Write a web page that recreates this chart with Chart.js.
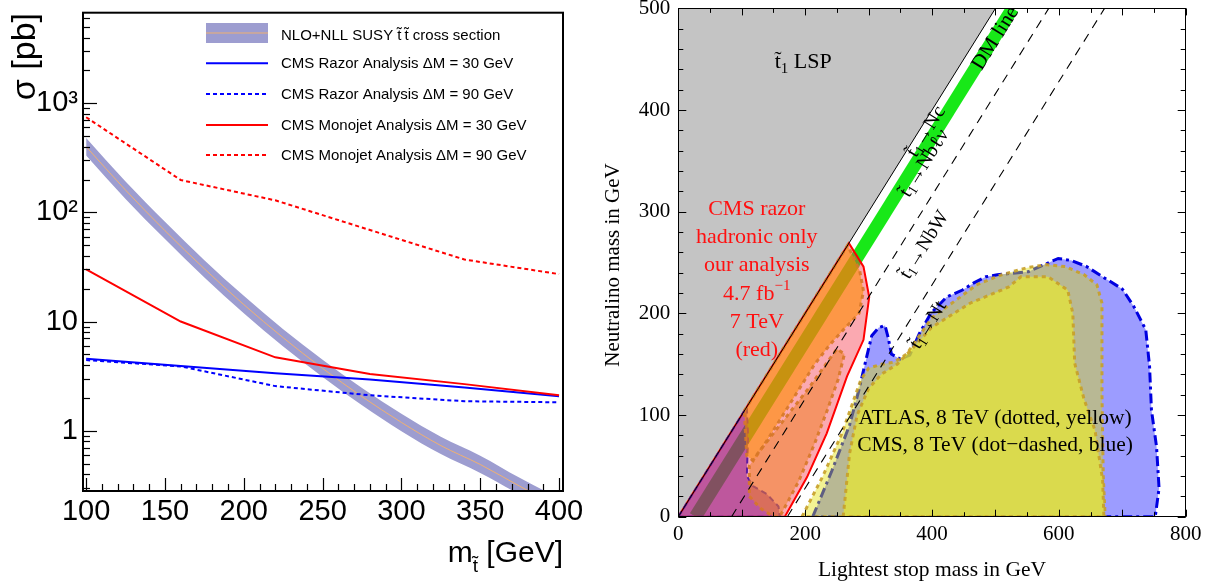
<!DOCTYPE html>
<html><head><meta charset="utf-8">
<script src="https://cdn.jsdelivr.net/npm/chart.js@4.4.1/dist/chart.umd.min.js"></script>
<style>
html,body{margin:0;padding:0;background:#fff;overflow:hidden;}
#c1{position:absolute;left:0;top:0;}
#c2{position:absolute;left:600px;top:0;}
</style></head><body>
<canvas id="c1" width="600" height="583"></canvas>
<canvas id="c2" width="611" height="583"></canvas>
<script>
// ================= LEFT PANEL DATA =================
const limitMass   = [100, 160, 220, 280, 340, 400];
const monojetDM30 = [30, 10, 4.7, 3.3, 2.67, 2.11];
const monojetDM90 = [745, 198, 129, 69, 37, 27.2];
const razorDM30   = [4.56, 3.91, 3.35, 2.95, 2.49, 2.07];
const razorDM90   = [4.43, 3.88, 2.56, 2.11, 1.86, 1.82];
const xsecMass    = [100, 125, 150, 175, 200, 225, 250, 275, 300, 325, 350, 375, 400];
const xsecCentral = [400, 160, 68, 30.4, 14.3, 7.1, 3.72, 2.05, 1.19, 0.73, 0.49, 0.31, 0.20];
const xsecUp      = [480, 192, 82, 36.5, 17.2, 8.5, 4.46, 2.46, 1.43, 0.88, 0.59, 0.37, 0.24];
const xsecDown    = [333, 133, 57, 25.3, 11.9, 5.9, 3.10, 1.71, 0.99, 0.61, 0.41, 0.26, 0.167];
const leftXTicks  = [100, 150, 200, 250, 300, 350, 400];
const leftYTicks  = [1, 10, 100, 1000];
const leftYTickLabels = ['1', '10', '10\u00B2', '10\u00B3'];
const legendLabels = [
  'NLO+NLL SUSY t\u0303\u2009t\u0303 cross section',
  'CMS Razor Analysis \u0394M = 30 GeV',
  'CMS Razor Analysis \u0394M = 90 GeV',
  'CMS Monojet Analysis \u0394M = 30 GeV',
  'CMS Monojet Analysis \u0394M = 90 GeV'
];

// ================= RIGHT PANEL DATA (stop mass, neutralino mass) =================
const lspRegion   = [[0,0],[0,500],[500,500],[0,0]];
const dmLine      = [[27,0],[527,500]];
const bwLine      = [[84,0],[584,500]];
const topLine     = [[172,0],[672,500]];
const diagLine    = [[0,0],[500,500]];
const razorRegion = [[0,0],[269,269],[292,246],[301,216],[292,174],[266,138],[234,82],[203,39],[168,0],[0,0]];
const purpleRegion= [[0,0],[108,108],[110,80],[108,40],[118,30],[140,22],[158,10],[160,0],[0,0]];
const orangeRegionA = [[104,104],[267,267],[286,242],[292,222],[285,200],[262,185],[240,170],[215,150],[190,125],[165,100],[140,75],[118,55],[108,60],[104,104]];
const orangeRegionB = [[112,20],[130,8],[150,0],[160,0],[190,35],[215,72],[235,105],[252,135],[262,160],[250,165],[228,146],[205,126],[180,106],[150,82],[125,62],[112,50],[112,20]];
const cmsRegion = [[212,0],[242,45],[270,90],[285,125],[295,152],[305,178],[316,186],[326,188],[331,176],[336,160],[350,155],[365,159],[380,180],[398,200],[423,216],[448,223],[466,230],[485,236],[503,238],[552,241],[570,246],[599,254],[620,252],[644,246],[669,236],[700,224],[718,207],[737,184],[743,148],[746,105],[754,69],[758,28],[752,0],[212,0]];
const atlasOuter = [[195,0],[228,40],[258,82],[275,112],[288,135],[300,146],[320,150],[340,152],[360,160],[380,178],[400,196],[440,214],[470,228],[510,238],[550,245],[580,248],[610,246],[640,238],[660,228],[668,210],[668,120],[670,40],[673,0],[195,0]];
const atlasInner = [[260,0],[270,62],[282,100],[300,126],[320,140],[345,150],[370,166],[399,186],[460,210],[521,226],[540,236],[583,236],[614,223],[622,200],[625,151],[640,115],[657,85],[669,36],[671,0],[260,0]];
const rightXTicks = [0, 200, 400, 600, 800];
const rightYTicks = [0, 100, 200, 300, 400, 500];

// ================= HELPERS =================
const SANS = "'Liberation Sans', Arial, sans-serif";
const SERIF = "'Liberation Serif', 'Times New Roman', serif";
function pts(xs, ys) { return xs.map((x, i) => ({x: x, y: ys[i]})); }
function pairs(arr) { return arr.map(p => ({x: p[0], y: p[1]})); }
function drawRich(ctx, segs, x, y, align) {
  let total = 0;
  for (const s of segs) { ctx.font = s.f; s.w = ctx.measureText(s.t).width; total += s.w; }
  let cx = align === 'center' ? x - total / 2 : (align === 'right' ? x - total : x);
  ctx.textAlign = 'left';
  for (const s of segs) { ctx.font = s.f; ctx.fillText(s.t, cx, y + (s.dy || 0)); cx += s.w; }
}
function ordered(list) { const n = list.length; list.forEach((d, i) => d.order = n - i); return list; }

// ================= LEFT CHART =================
const leftDecor = {
  id: 'leftDecor',
  afterDatasetsDraw(chart) {
    const ctx = chart.ctx, a = chart.chartArea, xs = chart.scales.x, ys = chart.scales.y;
    ctx.save();
    ctx.strokeStyle = '#000';
    ctx.lineWidth = 1.2;
    for (let e = -1; e <= 3; e++) {
      for (let d = 1; d <= 9; d++) {
        const v = d * Math.pow(10, e);
        if (v < ys.min || v > ys.max) continue;
        const py = Math.round(ys.getPixelForValue(v)) + 0.5;
        const len = d === 1 ? 14 : 7;
        ctx.beginPath(); ctx.moveTo(a.left, py); ctx.lineTo(a.left + len, py); ctx.stroke();
      }
    }
    for (let v = 100; v <= 400; v += 10) {
      const px = Math.round(xs.getPixelForValue(v)) + 0.5;
      const len = v % 50 === 0 ? 13 : 7;
      ctx.beginPath(); ctx.moveTo(px, a.bottom); ctx.lineTo(px, a.bottom - len); ctx.stroke();
    }
    ctx.lineWidth = 2;
    ctx.strokeRect(a.left, a.top, a.right - a.left, a.bottom - a.top);
    // legend
    const lx0 = 206, lx1 = 268, tx = 281;
    const rows = [33, 63.3, 94, 125, 155];
    ctx.fillStyle = '#9d9dd0';
    ctx.fillRect(lx0, 23, lx1 - lx0, 20);
    ctx.strokeStyle = '#f0b070'; ctx.lineWidth = 1;
    ctx.beginPath(); ctx.moveTo(lx0, 33); ctx.lineTo(lx1, 33); ctx.stroke();
    const styles = [null, ['#0000ff', []], ['#0000ff', [4, 3]], ['#ff0000', []], ['#ff0000', [4, 3]]];
    for (let i = 1; i < 5; i++) {
      ctx.strokeStyle = styles[i][0]; ctx.setLineDash(styles[i][1]); ctx.lineWidth = 2;
      ctx.beginPath(); ctx.moveTo(lx0, rows[i]); ctx.lineTo(lx1, rows[i]); ctx.stroke();
    }
    ctx.setLineDash([]);
    ctx.fillStyle = '#000'; ctx.font = '15px ' + SANS; ctx.textBaseline = 'middle'; ctx.textAlign = 'left';
    legendLabels.forEach((t, i) => ctx.fillText(t, tx, rows[i] + (i === 0 ? 2.5 : 0.5)));
    // axis titles
    ctx.textBaseline = 'alphabetic';
    ctx.save();
    ctx.translate(35, 13); ctx.rotate(-Math.PI / 2);
    ctx.font = '34px ' + SANS; ctx.textAlign = 'right';
    ctx.fillText('\u03C3 [pb]', 0, 0);
    ctx.restore();
    drawRich(ctx, [
      {t: 'm', f: '30px ' + SANS},
      {t: 't\u0303', f: '19px ' + SANS, dy: 10},
      {t: ' [GeV]', f: '30px ' + SANS}
    ], 563, 562, 'right');
    ctx.restore();
  }
};

const leftDatasets = ordered([
  {data: pts(xsecMass, xsecDown), borderWidth: 0, pointRadius: 0, fill: false, cubicInterpolationMode: 'monotone'},
  {data: pts(xsecMass, xsecUp), borderWidth: 0, pointRadius: 0, fill: 0, backgroundColor: '#9d9dd0', cubicInterpolationMode: 'monotone'},
  {data: pts(xsecMass, xsecCentral), borderColor: '#f0b070', borderWidth: 1, pointRadius: 0, fill: false, cubicInterpolationMode: 'monotone'},
  {data: pts(limitMass, razorDM30), borderColor: '#0000ff', borderWidth: 2, pointRadius: 0, fill: false},
  {data: pts(limitMass, razorDM90), borderColor: '#0000ff', borderWidth: 2, borderDash: [4, 3], pointRadius: 0, fill: false},
  {data: pts(limitMass, monojetDM30), borderColor: '#ff0000', borderWidth: 2, pointRadius: 0, fill: false},
  {data: pts(limitMass, monojetDM90), borderColor: '#ff0000', borderWidth: 2, borderDash: [4, 3], pointRadius: 0, fill: false}
]);

new Chart(document.getElementById('c1'), {
  type: 'line',
  data: {datasets: leftDatasets},
  options: {
    responsive: false, animation: false, events: [],
    layout: {padding: {top: 12.7, right: 37, left: 0, bottom: 0}},
    plugins: {legend: {display: false}, tooltip: {enabled: false}},
    scales: {
      x: {
        type: 'linear', min: 98, max: 402.5,
        grid: {display: false, drawTicks: false}, border: {display: false},
        ticks: {font: {family: SANS, size: 29}, color: '#000', padding: 4, maxRotation: 0, autoSkip: false},
        afterBuildTicks: s => { s.ticks = leftXTicks.map(v => ({value: v})); },
        afterFit: s => { s.height = 583 - 491; s.paddingLeft = 0; s.paddingRight = 0; }
      },
      y: {
        type: 'logarithmic', min: 0.28, max: 6760,
        grid: {display: false, drawTicks: false}, border: {display: false},
        ticks: {font: {family: SANS, size: 29}, color: '#000', padding: 5, autoSkip: false,
          callback: v => { const i = leftYTicks.indexOf(v); return i >= 0 ? leftYTickLabels[i] : ''; }},
        afterBuildTicks: s => { s.ticks = leftYTicks.map(v => ({value: v})); },
        afterFit: s => { s.width = 83; s.paddingTop = 0; s.paddingBottom = 0; }
      }
    }
  },
  plugins: [leftDecor]
});

// ================= RIGHT CHART =================
const rightDecor = {
  id: 'rightDecor',
  afterDatasetsDraw(chart) {
    const ctx = chart.ctx, a = chart.chartArea, xs = chart.scales.x, ys = chart.scales.y;
    ctx.save();
    ctx.strokeStyle = '#000'; ctx.lineWidth = 1;
    for (let v = 0; v <= 500; v += 20) {
      const py = Math.round(ys.getPixelForValue(v)) + 0.5;
      const len = v % 100 === 0 ? 8 : 5;
      ctx.beginPath(); ctx.moveTo(a.left, py); ctx.lineTo(a.left + len, py); ctx.stroke();
      ctx.beginPath(); ctx.moveTo(a.right, py); ctx.lineTo(a.right - len, py); ctx.stroke();
    }
    for (let v = 0; v <= 800; v += 50) {
      const px = Math.round(xs.getPixelForValue(v)) + 0.5;
      const len = v % 100 === 0 ? 7 : 4.5;
      ctx.beginPath(); ctx.moveTo(px, a.bottom); ctx.lineTo(px, a.bottom - len); ctx.stroke();
      ctx.beginPath(); ctx.moveTo(px, a.top); ctx.lineTo(px, a.top + len); ctx.stroke();
    }
    ctx.strokeRect(Math.round(a.left) + 0.5, Math.round(a.top) + 0.5, Math.round(a.right - a.left), Math.round(a.bottom - a.top));

    const P = (g, n) => [xs.getPixelForValue(g), ys.getPixelForValue(n)];
    const ang = Math.atan2(ys.getPixelForValue(100) - ys.getPixelForValue(0), xs.getPixelForValue(100) - xs.getPixelForValue(0));
    ctx.fillStyle = '#000'; ctx.textBaseline = 'alphabetic';
    let p = P(152, 441);
    drawRich(ctx, [{t: 't\u0303', f: '22px ' + SERIF}, {t: '1', f: '15px ' + SERIF, dy: 5}, {t: ' LSP', f: '22px ' + SERIF}], p[0], p[1], 'left');

    // red text block
    ctx.fillStyle = '#ff1010'; ctx.textBaseline = 'middle';
    const redLines = ['CMS razor', 'hadronic only', 'our analysis', null, '7 TeV', '(red)'];
    const redN = [302.7, 275.1, 247.6, 219.1, 191.6, 164];
    redN.forEach((n, i) => {
      const q = P(123.7, n);
      if (redLines[i]) { ctx.font = '22px ' + SERIF; ctx.textAlign = 'center'; ctx.fillText(redLines[i], q[0], q[1]); }
      else drawRich(ctx, [{t: '4.7 fb', f: '22px ' + SERIF}, {t: '\u22121', f: '15px ' + SERIF, dy: -8}], q[0], q[1], 'center');
    });
    ctx.fillStyle = '#000'; ctx.font = '21.5px ' + SERIF; ctx.textAlign = 'center';
    p = P(499.4, 97.1); ctx.fillText('ATLAS, 8 TeV (dotted, yellow)', p[0], p[1]);
    p = P(499.4, 70.5); ctx.fillText('CMS, 8 TeV (dot\u2212dashed, blue)', p[0], p[1]);

    const rot = (g, n, segs) => {
      const q = P(g, n);
      ctx.save(); ctx.translate(q[0], q[1]); ctx.rotate(ang);
      drawRich(ctx, segs, 0, 0, 'center');
      ctx.restore();
    };
    const F = '20px ' + SERIF, Fs = '14px ' + SERIF;
    rot(500.2, 470.6, [{t: 'DM line', f: '21px ' + SERIF}]);
    rot(391.2, 378.7, [{t: 't\u0303', f: F}, {t: '1', f: Fs, dy: 5}, {t: '\u2192Nc', f: F}]);
    rot(388.2, 347.6, [{t: 't\u0303', f: F}, {t: '1', f: Fs, dy: 5}, {t: '\u2192Nb\u2113\u03BD', f: F}]);
    rot(388.2, 267.3, [{t: 't\u0303', f: F}, {t: '1', f: Fs, dy: 5}, {t: '\u2192NbW', f: F}]);
    rot(394.4, 188.6, [{t: 't\u0303', f: F}, {t: '1', f: Fs, dy: 5}, {t: '\u2192Nt', f: F}]);

    // axis titles
    ctx.textBaseline = 'alphabetic'; ctx.textAlign = 'center'; ctx.font = '21.5px ' + SERIF;
    ctx.fillText('Lightest stop mass in GeV', (a.left + a.right) / 2, 576);
    ctx.save(); ctx.translate(19, 265); ctx.rotate(-Math.PI / 2);
    ctx.font = '21px ' + SERIF; ctx.fillText('Neutralino mass in GeV', 0, 0);
    ctx.restore();
    ctx.restore();
  }
};

const rightDatasets = ordered([
  {data: pairs(lspRegion), fill: 'shape', backgroundColor: '#c4c4c4', borderWidth: 0},
  {data: pairs(dmLine), fill: false, borderColor: '#18e818', borderWidth: 13, borderCapStyle: 'butt'},
  {data: pairs(razorRegion), fill: 'shape', backgroundColor: 'rgba(245,50,70,0.42)', borderColor: '#ff0000', borderWidth: 2},
  {data: pairs(purpleRegion), fill: 'shape', backgroundColor: 'rgba(140,20,140,0.55)', borderColor: '#5a1aa0', borderWidth: 2, borderDash: [6, 4]},
  {data: pairs(orangeRegionA), fill: 'shape', backgroundColor: 'rgba(255,140,0,0.6)', borderColor: 'rgba(215,120,40,0.9)', borderWidth: 3, borderDash: [4, 4]},
  {data: pairs(orangeRegionB), fill: 'shape', backgroundColor: 'rgba(240,130,40,0.55)', borderColor: 'rgba(215,120,40,0.9)', borderWidth: 3, borderDash: [4, 4]},
  {data: pairs(cmsRegion), fill: 'shape', backgroundColor: 'rgba(90,90,255,0.6)', borderColor: '#0000e0', borderWidth: 3, borderDash: [10, 4, 3, 4]},
  {data: pairs(atlasOuter), fill: 'shape', backgroundColor: 'rgba(225,225,0,0.42)', borderColor: 'rgba(200,160,40,0.9)', borderWidth: 3, borderDash: [4, 4]},
  {data: pairs(atlasInner), fill: 'shape', backgroundColor: 'rgba(240,240,30,0.6)', borderColor: 'rgba(200,160,40,0.9)', borderWidth: 3, borderDash: [4, 4]},
  {data: pairs(bwLine), fill: false, borderColor: '#000', borderWidth: 1.1, borderDash: [9, 7]},
  {data: pairs(topLine), fill: false, borderColor: '#000', borderWidth: 1.1, borderDash: [9, 7]},
  {data: pairs(diagLine), fill: false, borderColor: '#000', borderWidth: 1}
]);
rightDatasets.forEach(d => { d.pointRadius = 0; d.tension = 0; });

new Chart(document.getElementById('c2'), {
  type: 'line',
  data: {datasets: rightDatasets},
  options: {
    responsive: false, animation: false, events: [],
    layout: {padding: {top: 8.4, right: 25.3, left: 0, bottom: 0}},
    plugins: {legend: {display: false}, tooltip: {enabled: false}},
    scales: {
      x: {
        type: 'linear', min: 0, max: 800,
        grid: {display: false, drawTicks: false}, border: {display: false},
        ticks: {font: {family: SERIF, size: 21}, color: '#000', padding: 5, maxRotation: 0, autoSkip: false},
        afterBuildTicks: s => { s.ticks = rightXTicks.map(v => ({value: v})); },
        afterFit: s => { s.height = 583 - 516.7; s.paddingLeft = 0; s.paddingRight = 0; }
      },
      y: {
        type: 'linear', min: 0, max: 500,
        grid: {display: false, drawTicks: false}, border: {display: false},
        ticks: {font: {family: SERIF, size: 21}, color: '#000', padding: 8, autoSkip: false},
        afterBuildTicks: s => { s.ticks = rightYTicks.map(v => ({value: v})); },
        afterFit: s => { s.width = 78.3; s.paddingTop = 0; s.paddingBottom = 0; }
      }
    }
  },
  plugins: [rightDecor]
});
</script>
</body></html>
